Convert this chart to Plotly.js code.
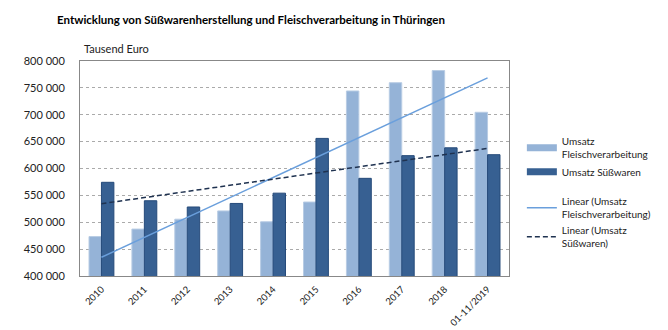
<!DOCTYPE html>
<html><head><meta charset="utf-8">
<script src="https://cdn.plot.ly/plotly-3.0.1.min.js"></script>
<style>html,body{margin:0;padding:0;background:#fff}</style>
</head><body>
<div id="chart" style="width:668px;height:330px"></div>
<script>
const categories = ['2010','2011','2012','2013','2014','2015','2016','2017','2018','01-11/2019'];
const fleisch = [473400, 487300, 505700, 521100, 500900, 537600, 744200, 759600, 782200, 704600];
const suess   = [574300, 540000, 528400, 535000, 554100, 656000, 581700, 623900, 638500, 625700];
const trendX = ['2010', '01-11/2019'];
const trendFleisch = [434800, 768600];
const trendSuess = [534500, 637300];

const font = "Lato, Liberation Sans, Arial, sans-serif";
const cLight = '#95b3d7', cDark = '#376092';
const data = [
  {type:'bar', x:categories, y:fleisch, name:'Umsatz<br>Fleischverarbeitung', showlegend:false,
   marker:{color:cLight, line:{color:'#b8cce4', width:1}}},
  {type:'bar', x:categories, y:suess, name:'Umsatz Süßwaren', showlegend:false,
   marker:{color:cDark, line:{color:'#254a7a', width:1}}},
  {type:'scatter', mode:'lines', x:[null], y:[null], name:'Umsatz<br>Fleischverarbeitung', legendgroup:'a',
   line:{color:cLight, width:7}, hoverinfo:'skip'},
  {type:'scatter', mode:'lines', x:[null], y:[null], name:'Umsatz Süßwaren', legendgroup:'a',
   line:{color:cDark, width:7}, hoverinfo:'skip'},
  {type:'scatter', mode:'lines', x:trendX, y:trendFleisch, name:'Linear (Umsatz<br>Fleischverarbeitung)', legendgroup:'b',
   line:{color:'#6a9fdc', width:1.5}},
  {type:'scatter', mode:'lines', x:trendX, y:trendSuess, name:'Linear (Umsatz<br>Süßwaren)', legendgroup:'b',
   line:{color:'#1f3250', width:1.5, dash:'5px,3px'}}
];
const layout = {
  width:668, height:330,
  margin:{l:80, r:154, t:61, b:54},
  paper_bgcolor:'#fff', plot_bgcolor:'#fff',
  font:{family:font, size:11, color:'#222'},
  separators:', ',
  barmode:'group', bargap:0.42, bargroupgap:0,
  title:{text:'<b>Entwicklung von Süßwarenherstellung und Fleischverarbeitung in Thüringen</b>',
    font:{family:font, size:11.5, color:'#000'}, x:57/668, xref:'container', xanchor:'left', y:1-20/330, yref:'container', yanchor:'middle'},
  xaxis:{type:'category', tickangle:-45, showline:true, linecolor:'#888', linewidth:1, mirror:true,
    ticks:'', ticklabelstandoff:3, tickfont:{size:9.5, color:'#222'}, showgrid:false, fixedrange:true},
  yaxis:{range:[400000, 800000], dtick:50000, tickformat:',d', showline:true, linecolor:'#888', linewidth:1, mirror:true,
    gridcolor:'#aaa', griddash:'dot', gridwidth:1, ticks:'', ticklabelstandoff:12, tickfont:{size:11, color:'#222'}, zeroline:false},
  legend:{x:1.03, xanchor:'left', y:0.39, yanchor:'middle', font:{size:10, color:'#222'},
    traceorder:'grouped', tracegroupgap:12, itemwidth:30, bgcolor:'rgba(0,0,0,0)'},
  annotations:[{text:'Tausend Euro', xref:'paper', yref:'paper', x:0.0, y:1.0, xanchor:'left', yanchor:'bottom',
    xshift:2, yshift:4, showarrow:false, font:{size:11, color:'#222'}}]
};
Plotly.newPlot('chart', data, layout, {displayModeBar:false, responsive:false});
</script>
</body></html>
